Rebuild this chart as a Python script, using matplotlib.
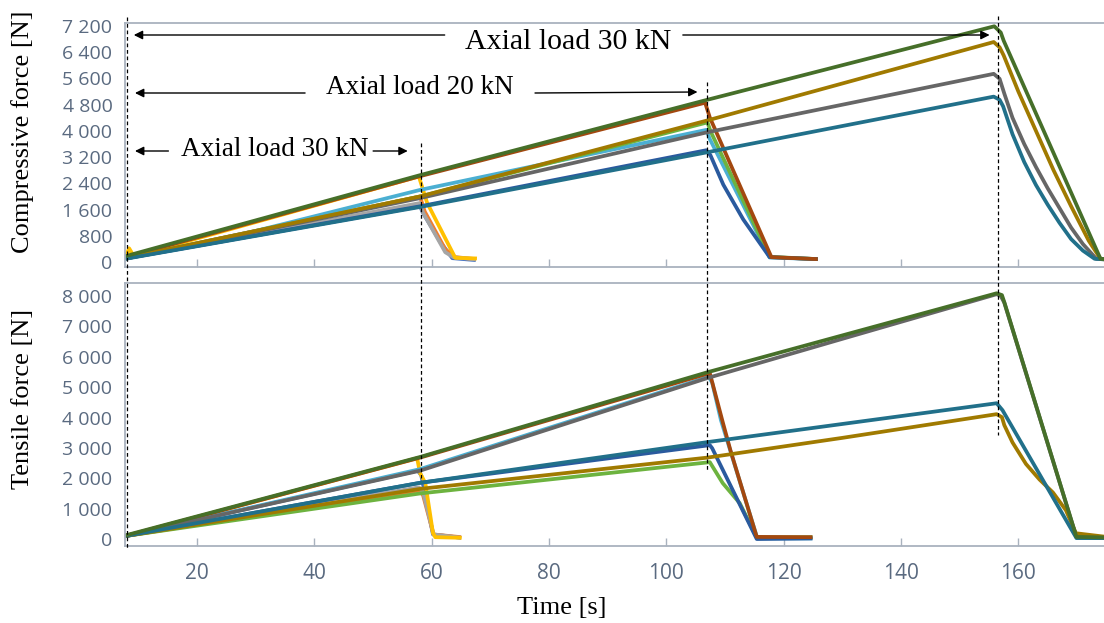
import matplotlib
matplotlib.use("Agg")
import matplotlib.pyplot as plt
from matplotlib.transforms import blended_transform_factory
from matplotlib.lines import Line2D

# ---------------- data ----------------
# Compressive force [N] vs time [s]
comp_blue_t = [7.8, 58.0, 58.5, 61.5, 63.5, 67.5]
comp_blue_f = [110, 1700, 1500, 600, 120, 60]
comp_orange_t = [7.8, 58.0, 58.8, 62.3, 64.0, 67.5]
comp_orange_f = [120, 2000, 1540, 390, 150, 90]
comp_gray_t = [7.8, 58.0, 58.5, 62.3, 63.7, 67.5]
comp_gray_f = [110, 1800, 1510, 300, 150, 80]
comp_yellow_t = [7.8, 8.4, 9.2, 57.8, 59.2, 64.0, 67.7]
comp_yellow_f = [150, 420, 180, 2610, 1810, 130, 110]
comp_lblue_t = [7.8, 30.0, 58.0, 106.8, 107.4, 117.6, 125.8]
comp_lblue_f = [110, 950, 2200, 4030, 3750, 140, 90]
comp_green_t = [7.8, 58.0, 107.0, 107.5, 117.6, 125.8]
comp_green_f = [110, 2000, 4260, 4000, 160, 90]
comp_dblue_t = [7.8, 58.0, 106.8, 107.5, 109.7, 113.1, 117.6, 125.8]
comp_dblue_f = [110, 1700, 3410, 3260, 2360, 1300, 150, 90]
comp_brown_t = [7.8, 58.0, 106.6, 107.4, 117.9, 125.8]
comp_brown_f = [150, 2620, 4860, 4410, 150, 90]
comp_dgray_t = [7.8, 58.0, 107.0, 155.8, 156.8, 157.6, 159.0, 161.0, 163.0, 165.0,
                167.0, 169.0, 171.0, 173.3, 175.0]
comp_dgray_f = [110, 1950, 3960, 5740, 5590, 5140, 4400, 3600, 2900, 2250,
                1650, 1050, 550, 100, 80]
comp_dyellow_t = [7.8, 58.0, 107.0, 155.8, 156.8, 157.5, 160.0, 163.0, 166.0,
                  169.0, 172.0, 174.0, 175.0]
comp_dyellow_f = [120, 2000, 4320, 6710, 6550, 6300, 5200, 4000, 2800,
                  1700, 650, 100, 80]
comp_dteal_t = [7.8, 58.0, 107.0, 155.8, 156.8, 157.4, 159.0, 161.0, 163.0, 165.0,
                167.0, 169.0, 171.0, 173.0, 175.0]
comp_dteal_f = [100, 1680, 3350, 5045, 4950, 4750, 3900, 3050, 2350, 1750,
                1200, 700, 350, 100, 80]
comp_dgreen_t = [7.8, 58.0, 107.0, 155.9, 157.0, 157.5, 174.0, 175.0]
comp_dgreen_f = [180, 2650, 4950, 7190, 7000, 6750, 100, 80]

# Tensile force [N] vs time [s]
tens_blue_t = [7.8, 57.6, 58.2, 60.2, 65.0]
tens_blue_f = [100, 2250, 2100, 150, 40]
tens_orange_t = [7.8, 57.8, 58.5, 60.3, 65.0]
tens_orange_f = [100, 1600, 1450, 150, 60]
tens_gray_t = [7.8, 57.8, 58.5, 60.3, 65.0]
tens_gray_f = [100, 1700, 1550, 150, 40]
tens_yellow_t = [7.8, 57.5, 58.0, 58.9, 60.2, 60.6, 65.1]
tens_yellow_f = [100, 2660, 2170, 1840, 200, 60, 40]
tens_lblue_t = [7.8, 58.0, 107.2, 107.8, 109.3, 115.5, 124.9]
tens_lblue_f = [100, 2300, 5340, 5150, 3910, 20, 20]
tens_green_t = [7.8, 58.0, 107.4, 109.6, 112.5, 115.4, 124.9]
tens_green_f = [100, 1500, 2530, 1840, 1180, 50, 60]
tens_dblue_t = [7.8, 58.0, 107.4, 107.8, 115.4, 124.9]
tens_dblue_f = [100, 1850, 3090, 2990, 0, 20]
tens_brown_t = [7.8, 58.0, 107.0, 107.4, 109.6, 110.9, 115.4, 124.9]
tens_brown_f = [100, 2680, 5440, 5460, 3850, 2930, 70, 60]
tens_dgray_t = [7.8, 58.0, 107.0, 130.0, 156.3, 157.0, 157.6, 169.9, 175.0]
tens_dgray_f = [100, 2250, 5300, 6590, 8060, 8000, 7780, 60, 40]
tens_dyellow_t = [7.8, 58.0, 107.0, 130.0, 156.3, 157.2, 157.6, 159.0, 161.3,
                  163.6, 165.9, 168.1, 169.8, 175.0]
tens_dyellow_f = [100, 1650, 2680, 3330, 4110, 4010, 3750, 3180, 2470,
                  1960, 1530, 950, 190, 70]
tens_dteal_t = [7.8, 58.0, 107.0, 156.3, 157.3, 169.9, 175.0]
tens_dteal_f = [100, 1850, 3190, 4470, 4240, 30, 30]
tens_dgreen_t = [7.8, 58.0, 107.0, 156.3, 157.2, 157.6, 169.9, 175.0]
tens_dgreen_f = [120, 2700, 5490, 8090, 8030, 7800, 70, 50]

comp_yticks = [0, 800, 1600, 2400, 3200, 4000, 4800, 5600, 6400, 7200]
comp_yticklabels = ["0", "800", "1 600", "2 400", "3 200", "4 000", "4 800", "5 600", "6 400", "7 200"]
tens_yticks = [0, 1000, 2000, 3000, 4000, 5000, 6000, 7000, 8000]
tens_yticklabels = ["0", "1 000", "2 000", "3 000", "4 000", "5 000", "6 000", "7 000", "8 000"]
xticks = [20, 40, 60, 80, 100, 120, 140, 160]

event_times = [8.1, 58.2, 107.0, 156.6]
labels = ["Axial load 30 kN", "Axial load 20 kN", "Axial load 30 kN"]

# ---------------- styles ----------------
colors = {
    "blue": "#4472C4", "orange": "#ED7D31", "gray": "#A5A5A5", "yellow": "#FFC000",
    "lblue": "#4BAFD2", "green": "#6DB33F", "dblue": "#2A5A9E", "brown": "#A3480F",
    "dgray": "#666666", "dyellow": "#A07A00", "dteal": "#21708A", "dgreen": "#466F29",
}
order = ["blue", "orange", "gray", "yellow", "lblue", "green", "dblue", "brown",
         "dgray", "dyellow", "dteal", "dgreen"]

comp_series = {
    "blue": (comp_blue_t, comp_blue_f), "orange": (comp_orange_t, comp_orange_f),
    "gray": (comp_gray_t, comp_gray_f), "yellow": (comp_yellow_t, comp_yellow_f),
    "lblue": (comp_lblue_t, comp_lblue_f), "green": (comp_green_t, comp_green_f),
    "dblue": (comp_dblue_t, comp_dblue_f), "brown": (comp_brown_t, comp_brown_f),
    "dgray": (comp_dgray_t, comp_dgray_f), "dyellow": (comp_dyellow_t, comp_dyellow_f),
    "dteal": (comp_dteal_t, comp_dteal_f), "dgreen": (comp_dgreen_t, comp_dgreen_f),
}
tens_series = {
    "blue": (tens_blue_t, tens_blue_f), "orange": (tens_orange_t, tens_orange_f),
    "gray": (tens_gray_t, tens_gray_f), "yellow": (tens_yellow_t, tens_yellow_f),
    "lblue": (tens_lblue_t, tens_lblue_f), "green": (tens_green_t, tens_green_f),
    "dblue": (tens_dblue_t, tens_dblue_f), "brown": (tens_brown_t, tens_brown_f),
    "dgray": (tens_dgray_t, tens_dgray_f), "dyellow": (tens_dyellow_t, tens_dyellow_f),
    "dteal": (tens_dteal_t, tens_dteal_f), "dgreen": (tens_dgreen_t, tens_dgreen_f),
}

spine_col = "#A9B2BE"
tick_col = "#5A6A80"
serif = ["Liberation Serif", "DejaVu Serif"]
tickfont = "Open Sans"

fig = plt.figure(figsize=(11.04, 6.23), dpi=100)
W, H = 1104, 623
ax1 = fig.add_axes([125 / W, 1 - 267 / H, (W - 125) / W, (267 - 23) / H])
ax2 = fig.add_axes([125 / W, 1 - 546 / H, (W - 125) / W, (546 - 283) / H])

for ax, series in ((ax1, comp_series), (ax2, tens_series)):
    for key in order:
        t, f = series[key]
        ax.plot(t, f, color=colors[key], lw=2.7, solid_joinstyle="round",
                solid_capstyle="butt", clip_on=True)
    ax.set_xlim(7.7, 174.6)
    ax.set_xticks(xticks)
    for s in ("top", "left", "bottom"):
        ax.spines[s].set_color(spine_col)
        ax.spines[s].set_linewidth(1.3)
    ax.spines["right"].set_visible(False)
    ax.tick_params(axis="x", direction="in", length=6, width=1, color=spine_col,
                   labelcolor=tick_col, labelsize=15, pad=12)
    ax.tick_params(axis="y", length=0, labelcolor=tick_col, labelsize=14, pad=9)

ax1.set_ylim(-150, 7290)
ax1.set_yticks(comp_yticks)
ax1.set_yticklabels(comp_yticklabels)
ax1.tick_params(axis="x", labelbottom=False)

ax2.set_ylim(-230, 8428)
ax2.set_yticks(tens_yticks)
ax2.set_yticklabels(tens_yticklabels)
ax2.set_xticklabels([str(v) for v in xticks])

for ax in (ax1, ax2):
    for lab in ax.get_xticklabels() + ax.get_yticklabels():
        lab.set_fontfamily(tickfont)

# axis titles
fig.text(23 / W, 1 - 131.5 / H, "Compressive force [N]", rotation=90, ha="center",
         va="center", fontsize=19, family=serif)
fig.text(23 / W, 1 - 399 / H, "Tensile force [N]", rotation=90, ha="center",
         va="center", fontsize=19, family=serif)
fig.text(562 / W, 1 - 608 / H, "Time [s]", ha="center", va="center", fontsize=19,
         family=serif)

# dashed event lines (x in data, y in figure fraction)
btr = blended_transform_factory(ax1.transData, fig.transFigure)
dash_spans = [(17, 548), (143, 478), (82, 472), (16, 435)]
for tx, (y0, y1) in zip(event_times, dash_spans):
    fig.add_artist(Line2D([tx, tx], [1 - y0 / H, 1 - y1 / H], transform=btr,
                          color="black", lw=0.9, ls=(0, (3, 2.2))))

# annotations
def arrow(x_from, x_to, y_from, y_to):
    ax1.annotate("", xy=(x_to, 1 - y_to / H), xytext=(x_from, 1 - y_from / H),
                 xycoords=btr, textcoords=btr, annotation_clip=False,
                 arrowprops=dict(arrowstyle="-|>", color="black", lw=1.0,
                                 mutation_scale=13, shrinkA=0, shrinkB=0))

# top label (30 kN)
fig.text(568 / W, 1 - 42 / H, labels[0], ha="center", va="center",
         fontsize=21.5, family=serif)
arrow(62.2, 9.2, 35, 35)
arrow(102.8, 155.1, 35, 35)
# middle label (20 kN)
fig.text(420 / W, 1 - 88 / H, labels[1], ha="center", va="center",
         fontsize=19.5, family=serif)
arrow(38.4, 9.4, 93, 93)
arrow(77.6, 105.3, 93, 92)
# lower label (30 kN)
fig.text(275 / W, 1 - 150 / H, labels[2], ha="center", va="center",
         fontsize=19.5, family=serif)
arrow(15.1, 9.4, 151, 151)
arrow(50.0, 55.9, 151, 151)

fig.savefig("out.png", dpi=100)
